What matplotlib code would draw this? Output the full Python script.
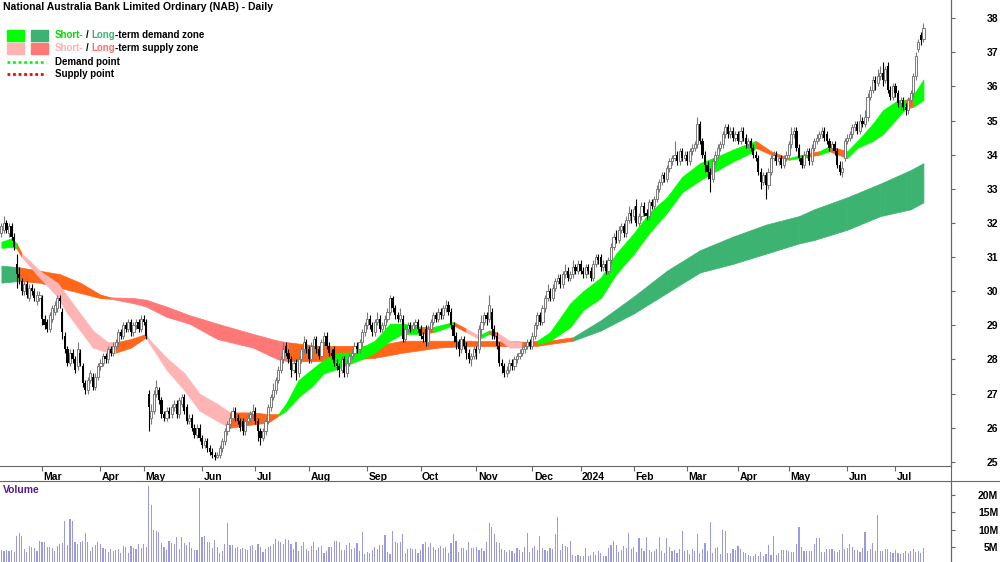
import matplotlib
matplotlib.use("Agg")
import matplotlib.pyplot as plt
import matplotlib.transforms as mtrans
from matplotlib.patches import Rectangle
from matplotlib.lines import Line2D
import numpy as np
import pandas as pd

plt.rcParams['font.family'] = ['Liberation Sans', 'DejaVu Sans']

# ---- daily candles (NAB), first bar 7 Feb 2023 ----
opens = [
31.7,31.8,32.0,31.7,31.9,31.6,30.8,30.5,30.3,30.0,
30.2,29.8,30.1,30.0,29.7,29.8,29.8,29.2,29.1,28.9,
29.2,29.4,29.5,29.8,29.4,28.7,28.3,27.9,28.2,28.0,
27.8,28.2,27.8,27.3,27.1,27.4,27.5,27.2,27.5,27.8,
27.9,28.1,28.0,28.3,28.2,28.4,28.5,28.8,28.7,29.0,
28.9,29.1,28.8,29.0,29.1,28.9,29.2,29.1,27.0,26.3,
26.5,27.0,27.1,26.8,26.4,26.3,26.5,26.4,26.6,26.7,
26.4,26.7,26.9,26.6,26.2,26.3,26.0,25.8,26.0,25.7,
25.5,25.6,25.4,25.3,25.2,25.15,25.2,25.4,25.6,25.9,
26.1,26.3,26.5,26.3,26.2,26.2,25.9,26.2,26.3,26.4,
26.5,26.2,25.9,25.7,25.9,26.2,26.6,26.9,27.1,27.4,
27.7,28.0,28.4,28.2,28.0,27.7,27.9,27.6,28.0,28.3,
28.5,28.3,28.0,28.4,28.6,28.3,28.1,28.5,28.7,28.4,
28.2,28.3,27.9,27.8,27.7,28.0,27.6,27.9,28.1,28.2,
28.4,28.3,28.5,28.8,29.0,29.2,29.0,28.8,29.1,29.2,
28.9,29.0,29.2,29.4,29.8,29.5,29.3,29.2,29.2,28.6,
28.9,29.0,28.9,29.0,29.1,28.9,28.7,28.9,28.5,28.9,
29.1,29.3,29.2,29.4,29.3,29.5,29.6,29.4,29.0,28.7,
28.5,28.3,28.6,28.4,28.2,28.0,28.1,28.3,28.3,28.9,
29.1,29.3,29.2,29.4,28.9,28.7,28.4,27.9,27.8,27.6,
27.7,27.9,27.8,28.0,28.1,28.2,28.3,28.4,28.5,28.4,
28.7,29.0,29.3,29.1,29.5,29.8,30.0,29.8,30.1,30.3,
30.4,30.2,30.5,30.6,30.4,30.5,30.7,30.6,30.8,30.6,
30.5,30.7,30.6,30.4,30.8,31.0,31.0,30.7,30.8,30.6,
30.9,31.3,31.6,31.5,31.8,31.9,31.7,32.1,32.3,32.2,
32.5,32.0,32.2,32.5,32.3,32.2,32.6,32.5,32.7,33.0,
33.2,33.4,33.3,33.6,33.8,33.9,34.0,33.8,34.1,33.9,
34.0,33.8,34.1,34.2,34.3,34.9,34.4,34.0,33.7,33.5,
33.3,33.8,34.0,34.2,34.3,34.6,34.8,34.6,34.7,34.5,
34.6,34.4,34.7,34.5,34.3,34.4,34.2,34.0,33.9,33.5,
33.2,33.4,33.1,33.5,33.9,34.0,33.8,33.9,33.7,33.9,
34.0,34.3,34.6,34.7,34.2,33.9,33.7,34.0,34.1,33.8,
34.2,34.4,34.5,34.6,34.7,34.6,34.4,34.2,34.3,34.1,
33.7,33.5,33.9,34.4,34.5,34.6,34.8,34.9,34.7,35.0,
34.9,35.1,35.7,35.9,36.2,36.1,36.3,36.4,36.2,36.6,
35.9,35.7,36.0,35.8,35.5,35.6,35.4,35.3,35.6,35.8,
36.3,37.1,37.5,37.4]

highs = [
32.0,32.2,32.1,32.0,32.0,31.7,31.1,30.7,30.4,30.3,
30.3,30.2,30.2,30.1,30.0,30.0,29.9,29.3,29.2,29.4,
29.6,29.7,29.9,29.9,29.5,28.8,28.4,28.3,28.3,28.1,
28.5,28.3,27.9,27.4,27.5,27.7,27.6,27.6,27.9,28.0,
28.2,28.2,28.4,28.4,28.5,28.6,28.9,28.9,29.1,29.1,
29.2,29.2,29.1,29.2,29.2,29.3,29.3,29.2,27.1,26.7,
27.1,27.4,27.2,26.9,26.5,26.6,26.6,26.7,26.8,26.8,
26.9,27.0,27.0,26.7,26.4,26.4,26.1,26.1,26.1,25.8,
25.7,25.7,25.5,25.4,25.3,25.3,25.5,25.7,26.0,26.2,
26.4,26.6,26.6,26.4,26.3,26.3,26.3,26.4,26.5,26.7,
26.6,26.3,26.0,26.0,26.3,26.7,27.0,27.3,27.5,27.8,
28.1,28.5,28.5,28.3,28.1,28.0,28.0,28.1,28.4,28.7,
28.6,28.4,28.5,28.7,28.7,28.4,28.6,28.8,28.8,28.5,
28.3,28.4,28.0,27.9,28.1,28.1,28.0,28.2,28.3,28.5,
28.5,28.6,28.9,29.1,29.4,29.3,29.1,29.2,29.4,29.3,
29.1,29.3,29.5,29.9,29.85,29.6,29.4,29.5,29.3,29.0,
29.1,29.1,29.1,29.2,29.2,29.0,28.8,29.0,29.0,29.2,
29.4,29.4,29.5,29.5,29.6,29.75,29.7,29.5,29.1,28.8,
28.6,28.7,28.7,28.5,28.3,28.2,28.4,28.4,29.0,29.3,
29.4,29.4,29.9,29.5,29.0,28.8,28.5,28.0,27.9,27.8,
28.0,28.0,28.1,28.2,28.3,28.4,28.5,28.6,28.6,28.8,
29.1,29.4,29.4,29.6,29.9,30.2,30.1,30.2,30.4,30.5,
30.5,30.6,30.8,30.7,30.6,30.9,30.8,30.9,30.9,30.7,
30.8,30.8,30.7,30.9,31.1,31.1,31.1,30.9,30.9,31.0,
31.4,31.7,31.8,31.9,32.0,32.0,32.2,32.5,32.4,32.5,
32.7,32.3,32.6,32.6,32.4,32.7,32.7,32.8,33.1,33.3,
33.5,33.5,33.7,33.9,34.0,34.4,34.1,34.2,34.2,34.1,
34.1,34.2,34.3,34.4,35.1,35.0,34.5,34.1,33.8,33.6,
33.9,34.1,34.3,34.4,34.7,34.9,34.9,34.8,34.8,34.7,
34.7,34.8,34.8,34.6,34.5,34.5,34.3,34.1,34.0,33.6,
33.5,33.5,33.6,34.0,34.1,34.1,34.0,34.0,34.0,34.1,
34.4,34.8,34.8,34.8,34.3,34.0,34.1,34.2,34.2,34.3,
34.5,34.6,34.7,34.8,34.8,34.7,34.5,34.4,34.4,34.2,
33.8,33.8,34.5,34.6,34.7,34.9,35.0,35.0,35.2,35.1,
35.3,35.8,36.0,36.3,36.3,36.5,36.6,36.7,36.6,36.7,
36.0,36.1,36.1,35.9,35.7,35.7,35.5,35.7,35.9,36.4,
37.0,37.4,37.6,37.85]

lows = [
31.6,31.7,31.7,31.6,31.5,31.2,30.1,30.2,29.9,29.9,
29.8,29.7,29.9,29.7,29.6,29.7,29.0,28.9,28.8,28.8,
29.1,29.3,29.4,29.5,28.6,28.2,27.8,27.8,27.9,27.6,
27.7,27.8,27.2,27.0,27.0,27.3,27.1,27.1,27.4,27.7,
27.8,27.9,27.9,28.1,28.1,28.3,28.4,28.6,28.6,28.8,
28.8,28.7,28.7,28.9,28.8,28.8,29.0,28.6,25.9,26.1,
26.4,26.9,26.7,26.3,26.2,26.2,26.3,26.3,26.5,26.3,
26.3,26.6,26.4,26.1,26.1,25.9,25.7,25.7,25.6,25.4,
25.4,25.3,25.2,25.1,25.05,25.1,25.1,25.3,25.5,25.8,
26.0,26.2,26.2,26.1,25.9,25.8,25.8,26.1,26.2,26.3,
26.1,25.6,25.5,25.6,25.8,26.1,26.5,26.8,27.0,27.3,
27.6,27.9,28.1,27.9,27.5,27.6,27.4,27.5,27.9,28.2,
28.2,27.9,27.9,28.3,28.2,28.0,28.0,28.4,28.3,28.1,
28.0,27.8,27.7,27.5,27.6,27.5,27.5,27.8,28.0,28.1,
28.2,28.2,28.4,28.7,28.9,28.9,28.7,28.7,29.0,28.8,
28.8,28.9,29.1,29.3,29.4,29.2,29.1,29.1,28.5,28.5,
28.8,28.8,28.8,28.9,28.8,28.6,28.5,28.4,28.4,28.8,
29.0,29.1,29.1,29.2,29.2,29.4,29.3,28.9,28.5,28.3,
28.1,28.2,28.3,28.0,27.9,27.8,28.0,28.0,28.2,28.7,
29.0,29.0,29.1,28.6,28.6,28.3,27.8,27.6,27.5,27.5,
27.6,27.7,27.7,27.9,28.0,28.1,28.2,28.3,28.3,28.3,
28.6,28.9,29.0,29.0,29.4,29.7,29.7,29.7,30.0,30.2,
30.1,30.1,30.4,30.3,30.3,30.4,30.5,30.5,30.5,30.4,
30.4,30.5,30.3,30.3,30.7,30.8,30.6,30.6,30.5,30.5,
30.8,31.2,31.4,31.4,31.7,31.6,31.6,32.0,32.0,32.1,
31.9,31.9,32.1,32.2,32.1,32.1,32.4,32.4,32.6,32.9,
33.1,33.2,33.2,33.5,33.7,33.8,33.7,33.7,33.8,33.8,
33.7,33.7,34.0,34.1,34.2,34.3,33.9,33.5,33.3,32.9,
33.2,33.7,33.9,34.1,34.2,34.5,34.5,34.5,34.4,34.4,
34.3,34.3,34.4,34.2,34.2,34.1,33.9,33.8,33.4,33.0,
33.1,32.7,33.0,33.4,33.8,33.7,33.7,33.6,33.6,33.8,
33.9,34.2,34.5,34.1,33.8,33.6,33.6,33.9,33.7,33.7,
34.1,34.3,34.4,34.5,34.4,34.3,34.1,34.1,34.0,33.6,
33.4,33.35,33.8,34.3,34.4,34.5,34.7,34.6,34.6,34.8,
34.8,35.0,35.6,35.8,35.9,36.0,36.2,36.0,36.1,35.8,
35.6,35.6,35.7,35.4,35.3,35.3,35.15,35.2,35.5,35.7,
36.2,37.0,37.2,37.3]

closes = [
31.9,32.0,31.8,31.9,31.6,31.3,30.5,30.4,30.0,30.2,
29.9,30.1,30.0,29.8,29.9,29.9,29.2,29.0,28.9,29.3,
29.5,29.6,29.8,29.7,28.8,28.3,27.9,28.2,28.0,27.7,
28.3,27.9,27.3,27.1,27.4,27.6,27.2,27.5,27.8,27.9,
28.1,28.0,28.3,28.2,28.4,28.5,28.8,28.7,29.0,28.9,
29.1,28.8,29.0,29.1,28.9,29.2,29.1,28.7,26.6,26.5,
27.0,27.2,26.8,26.4,26.3,26.5,26.4,26.6,26.7,26.4,
26.8,26.9,26.5,26.2,26.3,26.0,25.8,26.0,25.7,25.5,
25.6,25.4,25.3,25.2,25.15,25.2,25.4,25.6,25.9,26.1,
26.3,26.5,26.3,26.2,26.0,25.9,26.2,26.3,26.4,26.5,
26.2,25.9,25.7,25.9,26.2,26.6,26.9,27.1,27.4,27.7,
28.0,28.3,28.2,28.0,27.7,27.9,27.6,28.0,28.3,28.5,
28.3,28.0,28.4,28.6,28.3,28.1,28.5,28.7,28.4,28.2,
28.1,27.9,27.8,27.7,28.0,27.6,27.9,28.1,28.2,28.4,
28.3,28.5,28.8,29.0,29.2,29.0,28.8,29.1,29.2,28.9,
29.0,29.2,29.4,29.8,29.5,29.3,29.2,29.3,28.6,28.9,
29.0,28.9,29.0,29.1,28.9,28.7,28.6,28.5,28.9,29.1,
29.3,29.2,29.4,29.3,29.5,29.6,29.4,29.0,28.7,28.5,
28.3,28.6,28.4,28.2,28.0,28.1,28.3,28.2,28.9,29.1,
29.3,29.2,29.6,28.9,28.7,28.4,27.9,27.8,27.6,27.7,
27.9,27.8,28.0,28.1,28.2,28.3,28.4,28.5,28.4,28.7,
29.0,29.3,29.1,29.5,29.8,30.0,29.8,30.1,30.3,30.4,
30.2,30.5,30.6,30.4,30.5,30.7,30.6,30.8,30.6,30.5,
30.7,30.6,30.4,30.8,31.0,30.9,30.7,30.8,30.6,30.9,
31.3,31.6,31.5,31.8,31.9,31.7,32.1,32.3,32.2,32.4,
32.0,32.2,32.5,32.3,32.2,32.6,32.5,32.7,33.0,33.2,
33.4,33.3,33.6,33.8,33.9,34.0,33.8,34.1,33.9,34.0,
33.8,34.1,34.2,34.3,34.9,34.4,34.0,33.7,33.5,33.3,
33.8,34.0,34.2,34.3,34.6,34.8,34.6,34.7,34.5,34.6,
34.4,34.7,34.5,34.3,34.4,34.2,34.0,33.9,33.5,33.2,
33.4,33.1,33.5,33.9,34.0,33.8,33.9,33.7,33.9,34.0,
34.3,34.6,34.7,34.2,33.9,33.7,34.0,34.1,33.8,34.2,
34.4,34.5,34.6,34.7,34.5,34.4,34.2,34.3,34.1,33.7,
33.5,33.6,34.4,34.5,34.6,34.8,34.9,34.7,35.0,34.9,
35.1,35.7,35.9,36.2,36.1,36.3,36.4,36.2,36.5,35.9,
35.7,36.0,35.8,35.5,35.6,35.4,35.3,35.6,35.8,36.3,
36.9,37.3,37.35,37.7]

# volume, millions of shares
volume_m = [
4.0,3.8,4.2,3.7,4.0,3.6,8.2,9.0,8.3,4.5,
3.5,5.3,5.0,4.8,3.7,6.8,6.5,6.5,4.9,5.0,
4.6,3.9,5.4,6.0,6.2,12.5,5.5,13.0,12.4,6.3,
6.0,6.5,6.8,9.0,6.5,3.7,5.0,5.6,6.5,5.8,
4.7,4.5,3.5,4.4,3.7,4.0,4.4,3.3,5.3,4.9,
3.2,5.2,4.7,4.3,5.8,4.6,6.0,5.0,22.5,17.0,
9.8,9.6,9.2,6.2,5.0,4.0,6.6,6.2,6.0,7.9,
4.4,7.9,6.2,5.5,6.4,4.8,4.0,4.2,22.0,7.8,
8.2,6.3,6.5,4.6,7.0,5.0,3.2,3.8,5.8,11.8,
5.5,5.5,4.6,5.0,4.3,4.8,4.5,4.2,5.2,5.5,
4.0,6.0,5.0,3.6,4.3,5.1,5.2,6.0,7.2,6.8,
6.4,6.0,7.4,6.9,6.0,4.5,6.3,3.8,5.2,6.5,
4.3,3.9,5.3,6.3,4.2,5.0,5.2,3.3,3.9,4.9,
5.1,6.8,6.6,6.4,4.0,4.2,5.6,6.2,4.4,4.7,
6.2,3.9,9.2,3.0,3.5,3.3,4.0,4.9,4.3,5.6,
5.7,8.6,3.6,3.0,9.7,6.3,6.2,6.3,8.8,3.2,
4.4,4.6,4.5,4.3,3.3,4.1,5.9,6.3,5.0,6.2,
4.9,4.0,4.6,5.3,4.6,5.0,3.4,6.2,8.7,6.6,
3.5,4.6,4.7,4.0,6.4,4.6,4.6,5.0,4.1,4.8,
3.9,6.3,11.8,10.8,8.8,6.4,6.2,4.5,4.0,3.5,
4.2,3.7,3.2,4.6,4.1,3.6,5.0,9.0,3.5,4.8,
5.2,4.0,8.3,4.7,4.1,3.9,4.7,4.4,8.7,13.6,
4.2,6.0,5.3,4.9,6.8,2.7,2.4,2.6,2.4,2.5,
4.6,2.5,2.8,3.5,2.6,3.9,3.3,2.4,2.3,4.6,
5.6,6.8,5.6,3.5,4.0,5.2,4.6,9.0,4.5,5.0,
3.6,7.7,4.6,3.7,8.0,4.2,3.5,3.9,4.3,8.0,
3.9,3.2,7.5,4.9,3.7,4.0,3.4,4.4,9.5,3.9,
4.2,3.1,4.5,3.9,8.8,3.3,4.5,6.1,3.8,12.1,
3.2,4.6,5.0,2.9,10.0,9.5,3.4,3.2,4.4,4.1,
5.2,4.4,3.6,3.3,2.6,2.4,2.5,3.1,2.5,3.6,
2.5,3.1,5.7,2.6,8.3,2.7,3.3,4.2,4.1,4.2,
3.8,3.6,3.5,5.8,10.7,5.0,3.8,3.8,3.7,3.9,
6.0,7.5,7.5,3.5,3.5,4.3,4.3,4.3,3.9,3.5,
4.2,8.8,4.3,4.7,6.0,4.9,4.2,4.0,3.5,4.8,
9.2,3.8,4.4,6.2,3.9,14.2,3.7,3.9,4.4,4.4,
3.6,3.4,4.0,3.3,3.0,3.3,3.8,3.2,3.8,4.4,
3.5,3.8,3.4,4.6]

# ---- zone bands: bar index, top, bottom, zone of the following stretch ----
s_idx = [0,4,6,8,11,15,22,26,31,36,42,45,51,57,58,65,72,78,85,90,
         99,105,109,112,117,122,127,133,138,143,147,153,158,165,170,178,183,188,192,195,
         200,205,211,216,224,229,236,242,249,255,262,268,275,282,288,295,297,303,310,318,
         322,326,333,337,343,347,353,356,359,363]
s_top = [31.45,31.55,31.4,31.1,30.9,30.6,30.25,29.85,29.35,28.85,28.5,28.5,28.6,28.75,28.6,28.05,27.6,27.0,26.7,26.45,
         26.45,26.4,26.4,26.7,27.4,27.7,28.0,28.2,28.2,28.4,28.55,29.05,29.05,28.95,28.95,29.1,28.9,28.7,28.85,28.8,
         28.55,28.5,28.55,28.8,29.65,30.0,30.4,31.1,31.7,32.3,32.75,33.35,33.75,33.95,34.15,34.35,34.4,34.1,33.9,34.05,
         34.1,34.25,34.1,34.4,34.9,35.3,35.6,35.6,35.75,36.2]
s_bot = [31.27,31.3,31.25,31.0,30.75,30.4,29.85,29.35,28.85,28.35,28.2,28.2,28.35,28.65,28.5,27.7,27.1,26.5,26.2,26.0,
         26.1,26.15,26.35,26.5,26.9,27.2,27.6,27.75,27.9,28.05,28.2,28.55,28.75,28.75,28.8,29.0,28.8,28.6,28.75,28.65,
         28.35,28.35,28.45,28.55,28.95,29.45,29.8,30.5,31.1,31.7,32.3,32.9,33.25,33.55,33.8,34.05,34.2,34.0,33.85,33.95,
         34.0,34.1,33.9,34.2,34.4,34.6,35.1,35.35,35.4,35.6]
s_zone = list("GGOPPPPPPP" "POOPPPPPPO" "OOGGGGGGGG" "GGGOGOPGOP"
              "POGGGGGGGG" "GGGGGGOOGO" "GOGGGGGOGG")

l_idx = [0,7,15,23,31,39,43,52,57,65,74,85,99,109,113,125,138,147,158,172,
         185,198,211,220,225,236,249,262,275,288,301,314,320,333,346,358,363]
l_top = [30.75,30.7,30.6,30.5,30.25,29.9,29.82,29.8,29.75,29.55,29.3,29.05,28.75,28.55,28.5,28.4,28.4,28.4,28.55,28.55,
         28.55,28.55,28.5,28.6,28.65,29.15,29.85,30.6,31.2,31.6,31.95,32.2,32.4,32.75,33.15,33.55,33.75]
l_bot = [30.25,30.3,30.25,30.1,29.95,29.8,29.78,29.65,29.55,29.25,29.05,28.6,28.35,28.0,27.95,27.95,28.0,28.05,28.2,28.35,
         28.4,28.4,28.4,28.5,28.55,28.85,29.35,29.95,30.55,30.8,31.1,31.4,31.5,31.8,32.2,32.4,32.6]
l_zone = list("DOOOOO" "SSSSSSSS" "OOOOOOOOOO" "DDDDDDDDDDDDD")

zone_col = {'G': '#00ff00', 'D': '#3cb371', 'P': '#ffb4b4', 'S': '#ff7878', 'O': '#ff661a'}

holidays = ['2023-04-07', '2023-04-10', '2023-04-25', '2023-06-12', '2023-12-25', '2023-12-26',
            '2024-01-01', '2024-01-26', '2024-03-29', '2024-04-01', '2024-04-25', '2024-06-10']

o = np.array(opens); h = np.array(highs); l = np.array(lows); c = np.array(closes)
n = len(c)
x = np.arange(n)
dates = pd.bdate_range('2023-02-07', periods=n, freq='C', holidays=holidays)

W, H = 1000, 562
fig = plt.figure(figsize=(W / 100, H / 100), dpi=100)
ax = fig.add_axes([0, 96 / H, 951 / W, 466 / H])
axv = fig.add_axes([0, 0, 951 / W, 81 / H])

grey = '#666666'


def draw_band(idx, top, bot, zone):
    for k in range(len(idx) - 1):
        col = zone_col[zone[k]]
        ax.fill_between(idx[k:k + 2], top[k:k + 2], bot[k:k + 2],
                        facecolor=col, edgecolor=col, linewidth=0.5, zorder=1)


draw_band(l_idx, l_top, l_bot, l_zone)
draw_band(s_idx, s_top, s_bot, s_zone)

up = c >= o
ax.vlines(x[up], l[up], h[up], color='#7a7a7a', lw=0.8, zorder=3)
ax.vlines(x[~up], l[~up], h[~up], color='black', lw=0.8, zorder=3)
ax.bar(x[up], np.maximum(c - o, 0.04)[up], bottom=o[up], width=0.85,
       facecolor='white', edgecolor='#7a7a7a', linewidth=0.7, zorder=4)
ax.bar(x[~up], (o - c)[~up], bottom=c[~up], width=0.85,
       color='black', linewidth=0, zorder=4)

xl = (-0.55, 373.85)
ax.set_xlim(*xl)
ax.set_ylim(24.88, 38.53)

# month ticks
ticks = [i for i in range(1, n) if dates[i].month != dates[i - 1].month]
mlabels = ['2024' if dates[i].month == 1 else dates[i].strftime('%b') for i in ticks]
ax.set_xticks(ticks)
ax.set_xticklabels(mlabels, fontsize=7.5, fontweight='bold')
ax.tick_params(axis='x', direction='out', length=3.5, width=0.8, color=grey, pad=0.5)
shift = mtrans.ScaledTranslation(1.5 / 100, 0, fig.dpi_scale_trans)
for t in ax.get_xticklabels():
    t.set_ha('left')
    t.set_transform(t.get_transform() + shift)

ax.yaxis.tick_right()
ax.set_yticks(range(25, 39))
ax.tick_params(axis='y', direction='out', length=3, width=0.8, color=grey,
               labelsize=7.5, pad=31)
for t in ax.get_yticklabels():
    t.set_ha('right')
    t.set_fontweight('bold')

for s in ['top', 'left']:
    ax.spines[s].set_visible(False)
for s in ['bottom', 'right']:
    ax.spines[s].set_color(grey)
    ax.spines[s].set_linewidth(0.8)

# volume panel
axv.bar(x, np.array(volume_m) * 1e6, width=0.45, color='#9a9ae0', linewidth=0)
axv.set_xlim(*xl)
axv.set_ylim(0.66e6, 24.08e6)
axv.set_xticks([])
axv.yaxis.tick_right()
axv.set_yticks([5e6, 10e6, 15e6, 20e6])
axv.set_yticklabels(['5M', '10M', '15M', '20M'], fontsize=7.5, fontweight='bold')
axv.tick_params(axis='y', direction='out', length=3, width=0.8, color=grey, pad=31)
for t in axv.get_yticklabels():
    t.set_ha('right')
for s in ['top', 'left', 'bottom']:
    axv.spines[s].set_visible(False)
axv.spines['right'].set_color(grey)
axv.spines['right'].set_linewidth(0.8)

fig.add_artist(Line2D([0, 1], [1 - 481 / H] * 2, color=grey, lw=0.8))
fig.add_artist(Line2D([951 / W] * 2, [0, 1], color=grey, lw=0.8))

fig.text(3 / W, 1 - 7 / H, 'National Australia Bank Limited Ordinary (NAB) - Daily',
         fontsize=7.5, fontweight='bold', va='center', ha='left')
fig.text(3 / W, 1 - 490 / H, 'Volume', fontsize=7.5, fontweight='bold',
         color='#551a8b', va='center', ha='left')

# legend
r = fig.canvas.get_renderer()


def put_row(parts, y, x0=55):
    xp = x0
    for s, col, gap in parts:
        t = fig.text(xp / W, 1 - y / H, s, fontsize=7, fontweight='bold', color=col,
                     va='center', ha='left')
        xp += t.get_window_extent(renderer=r).width + gap


for (c1, c2, y) in [(zone_col['G'], zone_col['D'], 35), (zone_col['P'], zone_col['S'], 48)]:
    fig.add_artist(Rectangle((7 / W, 1 - (y + 5.5) / H), 17 / W, 11 / H, color=c1))
    fig.add_artist(Rectangle((31 / W, 1 - (y + 5.5) / H), 17 / W, 11 / H, color=c2))

put_row([('Short-', '#00dd00', 2.5), ('/', 'black', 2.5), ('Long', zone_col['D'], 0.3),
         ('-term demand zone', 'black', 0)], 35)
put_row([('Short-', '#ffb0b0', 2.5), ('/', 'black', 2.5), ('Long', '#ff6f6f', 0.3),
         ('-term supply zone', 'black', 0)], 48)

fig.add_artist(Line2D([7 / W, 46 / W], [1 - 62 / H] * 2, color='#00ff00', lw=2, ls=(0, (1, 1))))
fig.add_artist(Line2D([7 / W, 46 / W], [1 - 74 / H] * 2, color='#ff0000', lw=2, ls=(0, (1, 1))))
fig.text(55 / W, 1 - 62 / H, 'Demand point', fontsize=7, fontweight='bold', va='center')
fig.text(55 / W, 1 - 74 / H, 'Supply point', fontsize=7, fontweight='bold', va='center')

fig.savefig('out.png', dpi=100)
